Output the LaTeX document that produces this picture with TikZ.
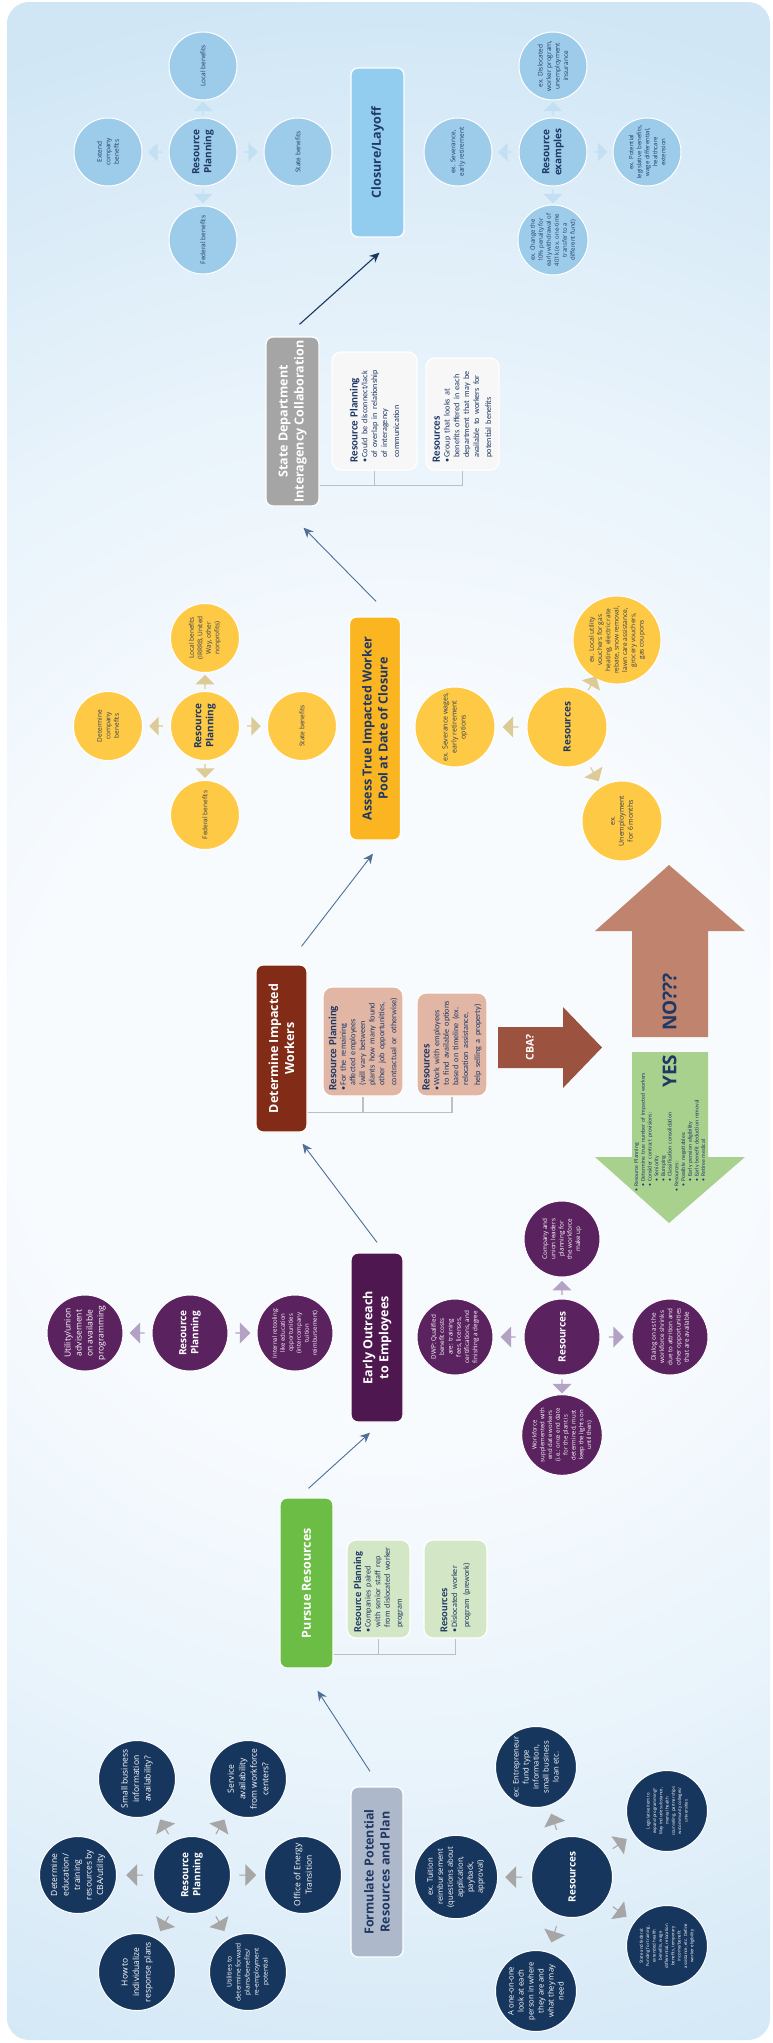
\documentclass[tikz,border=0pt]{standalone}
\usepackage{fontspec}
\setmainfont{Open Sans}
\newfontfamily\calf{Carlito}
\usetikzlibrary{arrows.meta,shapes.arrows,calc}
\definecolor{bgc}{HTML}{F8FBFE}
\definecolor{bgm}{HTML}{E8F3FB}
\definecolor{bge}{HTML}{D0E6F5}
\definecolor{navy}{HTML}{1F3864}
\definecolor{navyc}{HTML}{17375E}
\definecolor{steel}{HTML}{4F6F98}
\definecolor{skyb}{HTML}{92CDEF}
\definecolor{cblue}{HTML}{9DCCEB}
\definecolor{arrb}{HTML}{C3E0F2}
\definecolor{grayb}{HTML}{A5A5A5}
\definecolor{lgfill}{HTML}{F7F7F7}
\definecolor{lgray}{HTML}{BFBFBF}
\definecolor{orb}{HTML}{FBB521}
\definecolor{ocir}{HTML}{FEC945}
\definecolor{oarr}{HTML}{DCCB96}
\definecolor{otext}{HTML}{2E3B55}
\definecolor{detb}{HTML}{822C17}
\definecolor{dsub}{HTML}{E1B6A5}
\definecolor{cbac}{HTML}{9B5340}
\definecolor{noc}{HTML}{BF836E}
\definecolor{yesc}{HTML}{A9D18E}
\definecolor{eb}{HTML}{4E1750}
\definecolor{ecir}{HTML}{5B2260}
\definecolor{earr}{HTML}{B4A2C4}
\definecolor{pb}{HTML}{6CBD45}
\definecolor{psub}{HTML}{D3E7C6}
\definecolor{fb}{HTML}{ADB9CA}
\definecolor{fcir}{HTML}{17365D}
\definecolor{farr}{HTML}{A6A6A6}
\pgfdeclareradialshading{bgshade}{\pgfpoint{0bp}{0bp}}{color(0bp)=(bgc); color(7bp)=(bgc); color(13.5bp)=(bgm); color(21bp)=(bge); color(50bp)=(bge)}
\newcommand\fsz[2]{\fontsize{#1}{#2}\selectfont}
\newcommand\bul{\makebox[5pt][l]{\textbullet}}
\newcommand\barr[4]{\path let \p1=($(#2)-(#1)$), \n1={atan2(\y1,\x1)} in node[#3, rotate=\n1] (#4) at ($(#1)!0.5!(#2)$) {};}
\begin{document}
\begin{tikzpicture}[x=1pt,y=-1pt,
  bx/.style={rounded corners=7pt, draw=white, line width=1.3pt, rotate=90, align=center, inner sep=2pt, font=\bfseries\fsz{12.5}{16}},
  sbox/.style={rounded corners=9pt, draw=white, line width=1.3pt, rotate=90, inner sep=0pt},
  stxt/.style={rotate=90, align=left, inner sep=0pt, text=navy, anchor=west, font=\calf},
  cir/.style={circle, draw=white, line width=1pt, inner sep=0pt, align=center, rotate=90},
  hdr/.style={font=\bfseries\fsz{10}{12}},
  topc/.style={cir, fill=cblue, text=navy, minimum size=68pt, font=\fsz{6.5}{8.5}},
  asc/.style={cir, fill=ocir, text=otext, minimum size=69pt, font=\fsz{6.5}{8.5}},
  asr/.style={asc, minimum size=80pt, font=\fsz{7}{9}},
  ec/.style={cir, fill=ecir, text=white, minimum size=76pt, font=\fsz{6.3}{8.3}},
  fc/.style={cir, fill=fcir, text=white, minimum size=77pt, font=\fsz{8.5}{11.5}},
  fcr/.style={fc, minimum size=81pt, font=\fsz{7.7}{10}},
  conn/.style={draw=steel, line width=0.9pt, -{Stealth[length=10pt,width=9pt]}},
  gline/.style={draw=lgray, line width=1.1pt},
  sarr/.style={single arrow, draw=none, inner sep=0pt, minimum height=14pt, minimum width=19pt, single arrow head extend=3.5pt},
  farrs/.style={sarr, minimum height=17pt, minimum width=22pt, single arrow head extend=4pt, fill=farr},
]
\useasboundingbox (0,0) rectangle (773,2043);
\begin{scope}
\clip[rounded corners=22pt] (7,2) rectangle (770,2040);
\shade[shading=bgshade] (390,1080) circle (1300);
\end{scope}

% ---------- main boxes ----------
\node[bx, fill=skyb, text=navy, minimum width=169pt, minimum height=53pt] (closure) at (377.5,152.5) {Closure/Layoff};
\node[bx, fill=grayb, text=white, minimum width=169pt, minimum height=53pt] (state) at (292.5,421.5) {State Department\\Interagency Collaboration};
\node[bx, fill=orb, text=navy, minimum width=223pt, minimum height=51pt] (assess) at (375,728.5) {Assess True Impacted Worker\\Pool at Date of Closure};
\node[bx, fill=detb, text=white, minimum width=167pt, minimum height=51pt] (det) at (281.5,1048.5) {Determine Impacted\\Workers};
\node[bx, fill=eb, text=white, minimum width=169pt, minimum height=52pt] (early) at (377,1337.5) {Early Outreach\\to Employees};
\node[bx, fill=pb, text=white, minimum width=170pt, minimum height=53pt] (pursue) at (306.5,1583) {Pursue Resources};
\node[bx, fill=fb, text=navy, minimum width=170pt, minimum height=52pt] (form) at (377,1872) {Formulate Potential\\Resources and Plan};

% ---------- flow connectors ----------
\draw[conn] ($(form.east)+(-7,-15)$) -- ($(pursue.west)+(11,22)$);
\draw[conn] ($(pursue.east)+(2,-9)$) -- ($(early.west)+(-7,10)$);
\draw[conn] ($(early.east)+(0,-10)$) -- ($(det.west)+(21,11)$);
\draw[conn] ($(det.east)+(20,-18)$) -- ($(assess.west)+(-2,13)$);
\draw[conn] ($(assess.east)+(1,-15)$) -- ($(state.west)+(11,21)$);
\draw[conn, draw=navyc, line width=1.1pt] ($(state.east)+(7,-12)$) -- ($(closure.west)+(2,15)$);

% ---------- top group ----------
\node[topc, hdr] (rp1) at (203,152) {Resource\\Planning};
\node[topc] (loc1) at (203,66) {Local benefits};
\node[topc] (ext1) at (108,152) {Extend\\company\\benefits};
\node[topc] (st1) at (298,152) {State benefits};
\node[topc] (fed1) at (203,240) {Federal benefits};
\barr{rp1}{loc1}{sarr,fill=arrb}{a11}
\barr{rp1}{ext1}{sarr,fill=arrb}{a12}
\barr{rp1}{st1}{sarr,fill=arrb}{a13}
\barr{rp1}{fed1}{sarr,fill=arrb}{a14}
\node[topc, hdr] (re1) at (553,152) {Resource\\examples};
\node[topc] (dis1) at (553,66) {ex. Dislocated\\worker program,\\unemployment\\insurance};
\node[topc] (sev1) at (458,152) {ex. Severance,\\early retirement};
\node[topc, font=\fsz{6}{8}] (pot1) at (647,152) {ex. Potential\\legislative benefits,\\wage differential,\\healthcare\\extension};
\node[topc, font=\fsz{6}{8}] (chg1) at (553,240) {ex. Change the\\10\% penalty for\\early withdrawal of\\401k (ex. one-time\\transfer to a\\different fund)};
\barr{re1}{dis1}{sarr,fill=arrb}{a15}
\barr{re1}{sev1}{sarr,fill=arrb}{a16}
\barr{re1}{pot1}{sarr,fill=arrb}{a17}
\barr{re1}{chg1}{sarr,fill=arrb}{a18}

% ---------- state sub boxes ----------
\node[sbox, fill=lgfill, minimum width=118pt, minimum height=85pt] (srp) at (374.5,411) {};
\node[sbox, fill=lgfill, minimum width=112pt, minimum height=73pt] (sres) at (462.5,414) {};
\draw[gline] ($(state.south west)+(0,-21)$) -| (srp.west);
\draw[gline] ($(state.south west)+(0,-21)$) -| (sres.west);
\node[stxt, text width=110pt] (srpt) at ($(srp.west)+(0,-8)$) {{\fsz{11}{13}\bfseries Resource Planning\par}\fsz{8.2}{9.8}\bul Could be disconnect/lack\\\hspace*{5pt}of overlap in relationship\\\hspace*{5pt}of interagency\\\hspace*{5pt}communication};
\node[stxt, text width=104pt] (srest) at ($(sres.west)+(0,-8)$) {{\fsz{11}{13}\bfseries Resources\par}\fsz{8.2}{9.8}\bul Group that looks at\\\hspace*{5pt}benefits offered in each\\\hspace*{5pt}department that may be\\\hspace*{5pt}available to workers for\\\hspace*{5pt}potential benefits};

% ---------- assess group ----------
\node[asc, hdr, text=navy] (rp2) at (205,726) {Resource\\Planning};
\node[asc] (loc2) at (205,638) {Local benefits\\(IRRRB, United\\Way, other\\nonprofits)};
\node[asc] (detc) at (108,726) {Determine\\company\\benefits};
\node[asc] (st2) at (302,726) {State benefits};
\node[asc] (fed2) at (205,815) {Federal benefits};
\barr{rp2}{loc2}{sarr,fill=oarr}{a21}
\barr{rp2}{detc}{sarr,fill=oarr}{a22}
\barr{rp2}{st2}{sarr,fill=oarr}{a23}
\barr{rp2}{fed2}{sarr,fill=oarr}{a24}
\node[asr, hdr, text=navy] (res2) at (567,727) {Resources};
\node[asr] (sev2) at (455,727) {ex. Severance wages,\\early retirement\\options};
\node[asr, font=\fsz{6.6}{8.3}] (util) at (617,640) {ex. Local utility\\vouchers for gas\\heating, electric rate\\rebate, snow removal,\\lawn care assistance,\\grocery vouchers,\\gas coupons};
\node[asr] (unemp) at (622,821) {ex.\\Unemployment\\for 6 months};
\barr{res2}{sev2}{sarr,fill=oarr,minimum width=21pt,minimum height=16pt}{a25}
\barr{res2}{util}{sarr,fill=oarr,minimum width=21pt,minimum height=16pt}{a26}
\barr{res2}{unemp}{sarr,fill=oarr,minimum width=21pt,minimum height=16pt}{a27}

% ---------- determine sub boxes ----------
\node[sbox, fill=dsub, minimum width=109pt, minimum height=80pt] (drp) at (363,1041.5) {};
\node[sbox, fill=dsub, minimum width=103pt, minimum height=70pt] (dres) at (452,1044.5) {};
\draw[gline] ($(det.south west)+(0,-20)$) -| (drp.west);
\draw[gline] ($(det.south west)+(0,-20)$) -| (dres.west);
\node[stxt, text width=104pt] (drpt) at ($(drp.west)+(0,-6)$) {{\fsz{11}{13}\bfseries Resource Planning\par}\fsz{8.2}{9.6}\bul For the remaining\\\hspace*{5pt}affected employees\\\hspace*{5pt}(will vary between\\\hspace*{5pt}plants how many found\\\hspace*{5pt}other job opportunities,\\\hspace*{5pt}contractual or otherwise)};
\node[stxt, text width=98pt] (drest) at ($(dres.west)+(0,-6)$) {{\fsz{11}{13}\bfseries Resources\par}\fsz{8.2}{9.6}\bul Work with employees\\\hspace*{5pt}to find available options\\\hspace*{5pt}based on timeline (ex.\\\hspace*{5pt}relocation assistance,\\\hspace*{5pt}help selling a property)};

% ---------- CBA / NO / YES arrows ----------
\fill[cbac] (498,1027) -- (563,1027) -- (563,1007) -- (602,1047.5) -- (563,1088) -- (563,1068) -- (498,1068) -- cycle;
\node[rotate=90, text=white, font=\bfseries\fsz{10.5}{12}] (cba) at (530,1047.5) {CBA?};
\fill[noc] (632,1037) -- (632,931) -- (595,931) -- (669,865) -- (745,931) -- (708,931) -- (708,1037) -- cycle;
\node[rotate=90, text=navy, font=\bfseries\fsz{19}{22}] (no) at (669.5,1002) {NO???};
\fill[yesc] (632,1052) -- (632,1157) -- (595,1157) -- (669,1223) -- (745,1157) -- (708,1157) -- (708,1052) -- cycle;
\node[rotate=90, text=navy, font=\bfseries\fsz{19}{22}] (yes) at (669.5,1071) {YES};
\node[rotate=90, anchor=north west, align=left, inner sep=0pt, text=navy, font=\calf\fsz{5.8}{6.7}, text width=140pt] (yeslist) at (634,1192) {\bul Resource Planning\\
\hspace*{5pt}\bul Determine true number of impacted workers\\
\hspace*{5pt}\bul Consider contract provisions:\\
\hspace*{10pt}\bul Seniority\\
\hspace*{10pt}\bul Bumping\\
\hspace*{10pt}\bul Classification consolidation\\
\bul Resources:\\
\hspace*{5pt}\bul Possible negotiables:\\
\hspace*{10pt}\bul Early pension eligibility\\
\hspace*{10pt}\bul Early benefit deduction removal\\
\hspace*{10pt}\bul Retiree medical};

% ---------- early outreach group ----------
\node[ec, hdr] (rp3) at (190,1333) {Resource\\Planning};
\node[ec, font=\fsz{8.5}{11}] (utu) at (85,1333) {Utility/union\\advisement\\on available\\programming};
\node[ec, font=\fsz{6}{8}] (intr) at (295,1333) {Internal retooling:\\like education\\opportunities\\(intercompany\\tuition\\reimbursement)};
\barr{rp3}{utu}{sarr,fill=earr,minimum width=21pt,minimum height=15pt}{a31}
\barr{rp3}{intr}{sarr,fill=earr,minimum width=21pt,minimum height=15pt}{a32}
\node[ec, hdr] (res3) at (562,1337) {Resources};
\node[ec] (dwp) at (455,1337) {DWP: Qualified\\benefit costs\\are: training\\fees, licenses,\\certifications, and\\finishing a degree};
\node[ec] (dial) at (670,1337) {Dialog on as the\\workforce shrinks\\due to attrition and\\other opportunities\\that are available};
\node[ec] (comp) at (562,1239) {Company and\\union leaders\\planning for\\the workforce\\make up};
\node[ec, font=\fsz{6}{7.8}] (wf) at (562,1435) {Workforce\\supplemented with\\end date workers\\(i.e.: once end date\\for the plant is\\determined, must\\keep the lights on\\until then)};
\barr{res3}{dwp}{sarr,fill=earr,minimum width=21pt,minimum height=15pt}{a33}
\barr{res3}{dial}{sarr,fill=earr,minimum width=21pt,minimum height=15pt}{a34}
\barr{res3}{comp}{sarr,fill=earr}{a35}
\barr{res3}{wf}{sarr,fill=earr}{a36}

% ---------- pursue sub boxes ----------
\node[sbox, fill=psub, minimum width=98pt, minimum height=63pt] (prp) at (378.5,1589) {};
\node[sbox, fill=psub, minimum width=98pt, minimum height=63pt] (pres) at (455.5,1589) {};
\draw[gline] ($(pursue.south west)+(0,-14)$) -| (prp.west);
\draw[gline] ($(pursue.south west)+(0,-14)$) -| (pres.west);
\node[stxt, text width=92pt] (prpt) at ($(prp.west)+(0,-6)$) {{\fsz{10.5}{12.5}\bfseries Resource Planning\par}\fsz{8.2}{9.6}\bul Companies paired\\\hspace*{5pt}with senior staff rep\\\hspace*{5pt}from dislocated worker\\\hspace*{5pt}program};
\node[stxt, text width=92pt] (prest) at ($(pres.west)+(0,-6)$) {{\fsz{10.5}{12.5}\bfseries Resources\par}\fsz{8.2}{9.6}\bul Dislocated worker\\\hspace*{5pt}program (prework)};

% ---------- formulate group ----------
\node[fc, hdr] (rp4) at (192,1875) {Resource\\Planning};
\node[fc] (edu) at (78,1875) {Determine\\education/\\training\\resources by\\CBA/utility};
\node[fc] (off) at (303,1875) {Office of Energy\\Transition};
\node[fc] (smb) at (137,1779) {Small business\\information\\availability?};
\node[fc] (serv) at (248,1779) {Service\\availability\\from workforce\\centers?};
\node[fc] (how) at (137,1972) {How to\\individualize\\response plans};
\node[fc, font=\fsz{6.6}{9}] (utl) at (248,1972) {Utilities to\\determine forward\\plans/benefits/\\re-employment\\potential};
\barr{rp4}{edu}{farrs}{a41}
\barr{rp4}{off}{farrs}{a42}
\barr{rp4}{smb}{farrs}{a43}
\barr{rp4}{serv}{farrs}{a44}
\barr{rp4}{how}{farrs}{a45}
\barr{rp4}{utl}{farrs}{a46}
\node[fcr, hdr] (res4) at (572,1877) {Resources};
\node[fcr] (tui) at (456,1877) {ex. Tuition\\reimbursement\\(questions about\\application,\\payback,\\approval)};
\node[fcr] (ent) at (536,1767) {ex: Entrepreneur\\fund type\\information,\\small business\\loan etc.};
\node[fcr, font=\fsz{4.3}{6.3}] (leg) at (667,1811) {Legislative item to\\expand programming?\\May include substance,\\mental health\\counseling, partnerships\\w/community colleges/\\universities};
\node[fcr, font=\fsz{4.3}{6.3}] (saf) at (667,1946) {State and federal:\\Funding for training,\\extended health\\benefits, wage\\differential, relocation\\benefits, temporary\\income/benefit\\assistance, etc. Define\\worker eligibility};
\node[fcr] (one) at (536,1991) {A one-on-one\\look at each\\person in where\\they are and\\what they may\\need};
\barr{res4}{tui}{farrs}{a47}
\barr{res4}{ent}{farrs}{a48}
\barr{res4}{leg}{farrs}{a49}
\barr{res4}{saf}{farrs}{a50}
\barr{res4}{one}{farrs}{a51}
\end{tikzpicture}
\end{document}
